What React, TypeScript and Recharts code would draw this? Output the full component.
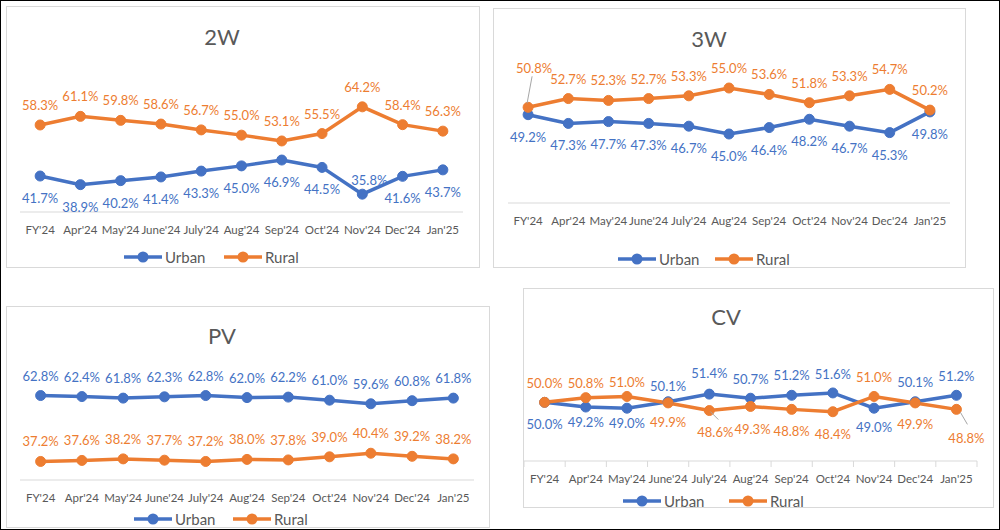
import React from 'react'
import { LineChart, Line, XAxis, YAxis, Legend, LabelList } from 'recharts'

const months = ["FY'24", "Apr'24", "May'24", "June'24", "July'24", "Aug'24", "Sep'24", "Oct'24", "Nov'24", "Dec'24", "Jan'25"]

const twoWUrban = [41.7, 38.9, 40.2, 41.4, 43.3, 45.0, 46.9, 44.5, 35.8, 41.6, 43.7]
const twoWRural = [58.3, 61.1, 59.8, 58.6, 56.7, 55.0, 53.1, 55.5, 64.2, 58.4, 56.3]
const threeWUrban = [49.2, 47.3, 47.7, 47.3, 46.7, 45.0, 46.4, 48.2, 46.7, 45.3, 49.8]
const threeWRural = [50.8, 52.7, 52.3, 52.7, 53.3, 55.0, 53.6, 51.8, 53.3, 54.7, 50.2]
const pvUrban = [62.8, 62.4, 61.8, 62.3, 62.8, 62.0, 62.2, 61.0, 59.6, 60.8, 61.8]
const pvRural = [37.2, 37.6, 38.2, 37.7, 37.2, 38.0, 37.8, 39.0, 40.4, 39.2, 38.2]
const cvUrban = [50.0, 49.2, 49.0, 50.1, 51.4, 50.7, 51.2, 51.6, 49.0, 50.1, 51.2]
const cvRural = [50.0, 50.8, 51.0, 49.9, 48.6, 49.3, 48.8, 48.4, 51.0, 49.9, 48.8]

const BLUE = '#4472C4'
const ORANGE = '#ED7D31'
const GREY = '#595959'
const FONT = "Lato, 'Noto Sans', sans-serif"

// label placement (offset from the point, optional leader line)
type Place = { dx?: number; dy: number; leader?: [number, number, number, number] }
const same = (dy: number): Place[] => months.map(() => ({ dy }))

const twoWUrbanPlace: Place[] = same(22).map((p, i) => (i === 8 ? { dx: 7, dy: -14 } : p))
const twoWRuralPlace: Place[] = same(-20)
const threeWUrbanPlace: Place[] = same(22)
const threeWRuralPlace: Place[] = same(-20).map((p, i) =>
  i === 0 ? { dx: 6, dy: -39, leader: [-1, -4, 4, -31] } : p
)
const pvUrbanPlace: Place[] = same(-20)
const pvRuralPlace: Place[] = same(-20)
const cvUrbanPlace: Place[] = [22, 15, 15, -16, -21, -19, -20, -19, 19, -20, -19].map((dy) => ({ dy }))
const cvRuralPlace: Place[] = [
  { dy: -19 }, { dy: -15 }, { dy: -14 }, { dy: 19 },
  { dx: 6, dy: 21, leader: [1, 1, 9, 9] },
  { dx: 2, dy: 23 }, { dy: 22 }, { dy: 22 }, { dy: -19 }, { dy: 21 },
  { dx: 10, dy: 29, leader: [4, 3, 11, 15] },
]

const makeLabel = (places: Place[], color: string) => (props: any) => {
  const vb = props.viewBox || {}
  const x = props.x ?? vb.x
  const y = props.y ?? vb.y
  const index = props.index ?? 0
  if (x == null || y == null) return null
  const p = places[index] || { dy: -20 }
  const dx = p.dx ?? 0
  return (
    <g>
      {p.leader && (
        <line
          x1={x + p.leader[0]}
          y1={y + p.leader[1]}
          x2={x + p.leader[2]}
          y2={y + p.leader[3]}
          stroke="#a6a6a6"
          strokeWidth={1}
        />
      )}
      <text
        x={x + dx}
        y={y + p.dy}
        textAnchor="middle"
        dominantBaseline="central"
        fill={color}
        fontSize={13}
        fontFamily={FONT}
      >
        {Number(props.value).toFixed(1)}%
      </text>
    </g>
  )
}

const MonthTick = (props: any) => {
  const { x, y, payload, index, visibleTicksCount, band, marks } = props
  const half = band / 2
  return (
    <g>
      {marks && <line x1={x - half} x2={x - half} y1={y} y2={y + 6} stroke="#d9d9d9" />}
      {marks && index === visibleTicksCount - 1 && (
        <line x1={x + half} x2={x + half} y1={y} y2={y + 6} stroke="#d9d9d9" />
      )}
      <text
        x={x}
        y={y + 17}
        textAnchor="middle"
        dominantBaseline="central"
        fill={GREY}
        fontSize={11.5}
        fontFamily={FONT}
      >
        {payload.value}
      </text>
    </g>
  )
}

const LegendRow = ({ gap }: { gap: number }) => (
  <svg width={gap + 90} height={20} style={{ display: 'block' }}>
    <line x1={0} x2={38} y1={10} y2={10} stroke={BLUE} strokeWidth={3.5} />
    <circle cx={19} cy={10} r={5.5} fill={BLUE} />
    <text x={41} y={10} dominantBaseline="central" fontSize={15} fill={GREY} fontFamily={FONT}>
      Urban
    </text>
    <line x1={gap} x2={gap + 38} y1={10} y2={10} stroke={ORANGE} strokeWidth={3.5} />
    <circle cx={gap + 19} cy={10} r={5.5} fill={ORANGE} />
    <text x={gap + 41} y={10} dominantBaseline="central" fontSize={15} fill={GREY} fontFamily={FONT}>
      Rural
    </text>
  </svg>
)

interface PanelProps {
  title: string
  urban: number[]
  rural: number[]
  urbanPlace: Place[]
  ruralPlace: Place[]
  box: { left: number; top: number; width: number; height: number }
  margin: { top: number; right: number; bottom: number; left: number }
  domain: [number, number]
  tickCount: number
  titleAt: [number, number]
  legendAt: [number, number, number]
  marks?: boolean
}

const Panel: React.FC<PanelProps> = (p) => {
  const w = p.box.width - 2
  const h = p.box.height - 2
  const plotW = w - p.margin.left - p.margin.right
  const pad = plotW / 22
  const data = months.map((m, i) => ({ month: m, urban: p.urban[i], rural: p.rural[i] }))
  return (
    <div
      style={{
        position: 'absolute',
        left: p.box.left,
        top: p.box.top,
        width: p.box.width,
        height: p.box.height,
        boxSizing: 'border-box',
        border: '1px solid #d9d9d9',
        background: '#fff',
      }}
    >
      <LineChart width={w} height={h} data={data} margin={p.margin}>
        <XAxis
          dataKey="month"
          height={30}
          padding={{ left: pad, right: pad }}
          axisLine={{ stroke: '#d9d9d9' }}
          tickLine={false}
          tickSize={0}
          tickMargin={0}
          interval={0}
          tick={<MonthTick band={plotW / 11} marks={p.marks} />}
        />
        <YAxis hide domain={p.domain} tickCount={p.tickCount} />
        <Legend
          layout="horizontal"
          verticalAlign="middle"
          align="center"
          wrapperStyle={{ left: p.legendAt[0], top: p.legendAt[1] - 10, width: 'auto', height: 'auto', lineHeight: 0 }}
          content={() => <LegendRow gap={p.legendAt[2]} />}
        />
        <Line
          dataKey="urban"
          stroke={BLUE}
          strokeWidth={3.5}
          dot={{ r: 5, fill: BLUE, stroke: BLUE, strokeWidth: 1 }}
          activeDot={false}
          isAnimationActive={false}
        >
          <LabelList dataKey="urban" content={makeLabel(p.urbanPlace, BLUE)} />
        </Line>
        <Line
          dataKey="rural"
          stroke={ORANGE}
          strokeWidth={3.5}
          dot={{ r: 5, fill: ORANGE, stroke: ORANGE, strokeWidth: 1 }}
          activeDot={false}
          isAnimationActive={false}
        >
          <LabelList dataKey="rural" content={makeLabel(p.ruralPlace, ORANGE)} />
        </Line>
      </LineChart>
      <div
        style={{
          position: 'absolute',
          left: p.titleAt[0] - 60,
          top: p.titleAt[1] - 15,
          width: 120,
          height: 30,
          lineHeight: '30px',
          textAlign: 'center',
          fontSize: 22,
          color: GREY,
          fontFamily: FONT,
        }}
      >
        {p.title}
      </div>
    </div>
  )
}

const App: React.FC = () => (
  <div style={{ position: 'absolute', left: 0, top: 0, width: 1000, height: 530, background: '#fff', overflow: 'hidden' }}>
    <Panel
      title="2W"
      urban={twoWUrban}
      rural={twoWRural}
      urbanPlace={twoWUrbanPlace}
      ruralPlace={twoWRuralPlace}
      box={{ left: 6, top: 6, width: 474, height: 262 }}
      margin={{ top: 82, right: 16, left: 13, bottom: 25 }}
      domain={[30, 70]}
      tickCount={5}
      titleAt={[215, 30]}
      legendAt={[117, 250, 100]}
    />
    <Panel
      title="3W"
      urban={threeWUrban}
      rural={threeWRural}
      urbanPlace={threeWUrbanPlace}
      ruralPlace={threeWRuralPlace}
      box={{ left: 493, top: 8, width: 473, height: 260 }}
      margin={{ top: 56, right: 15, left: 14, bottom: 34 }}
      domain={[30, 60]}
      tickCount={4}
      titleAt={[215, 30]}
      legendAt={[124, 250, 97]}
    />
    <Panel
      title="PV"
      urban={pvUrban}
      rural={pvRural}
      urbanPlace={pvUrbanPlace}
      ruralPlace={pvRuralPlace}
      box={{ left: 6, top: 306, width: 484, height: 222 }}
      margin={{ top: 70, right: 15, left: 13, bottom: 17 }}
      domain={[30, 70]}
      tickCount={5}
      titleAt={[215, 29]}
      legendAt={[127, 212, 99]}
    />
    <Panel
      title="CV"
      urban={cvUrban}
      rural={cvRural}
      urbanPlace={cvUrbanPlace}
      ruralPlace={cvRuralPlace}
      box={{ left: 523, top: 288, width: 471, height: 220 }}
      margin={{ top: 84, right: 16, left: 0, bottom: 16 }}
      domain={[40, 55]}
      tickCount={4}
      titleAt={[202, 28]}
      legendAt={[99, 212, 106]}
      marks
    />
    <div
      style={{
        position: 'absolute',
        left: 0,
        top: 0,
        width: 1000,
        height: 530,
        boxSizing: 'border-box',
        border: '1px solid #000',
        pointerEvents: 'none',
      }}
    />
  </div>
)

export default App
